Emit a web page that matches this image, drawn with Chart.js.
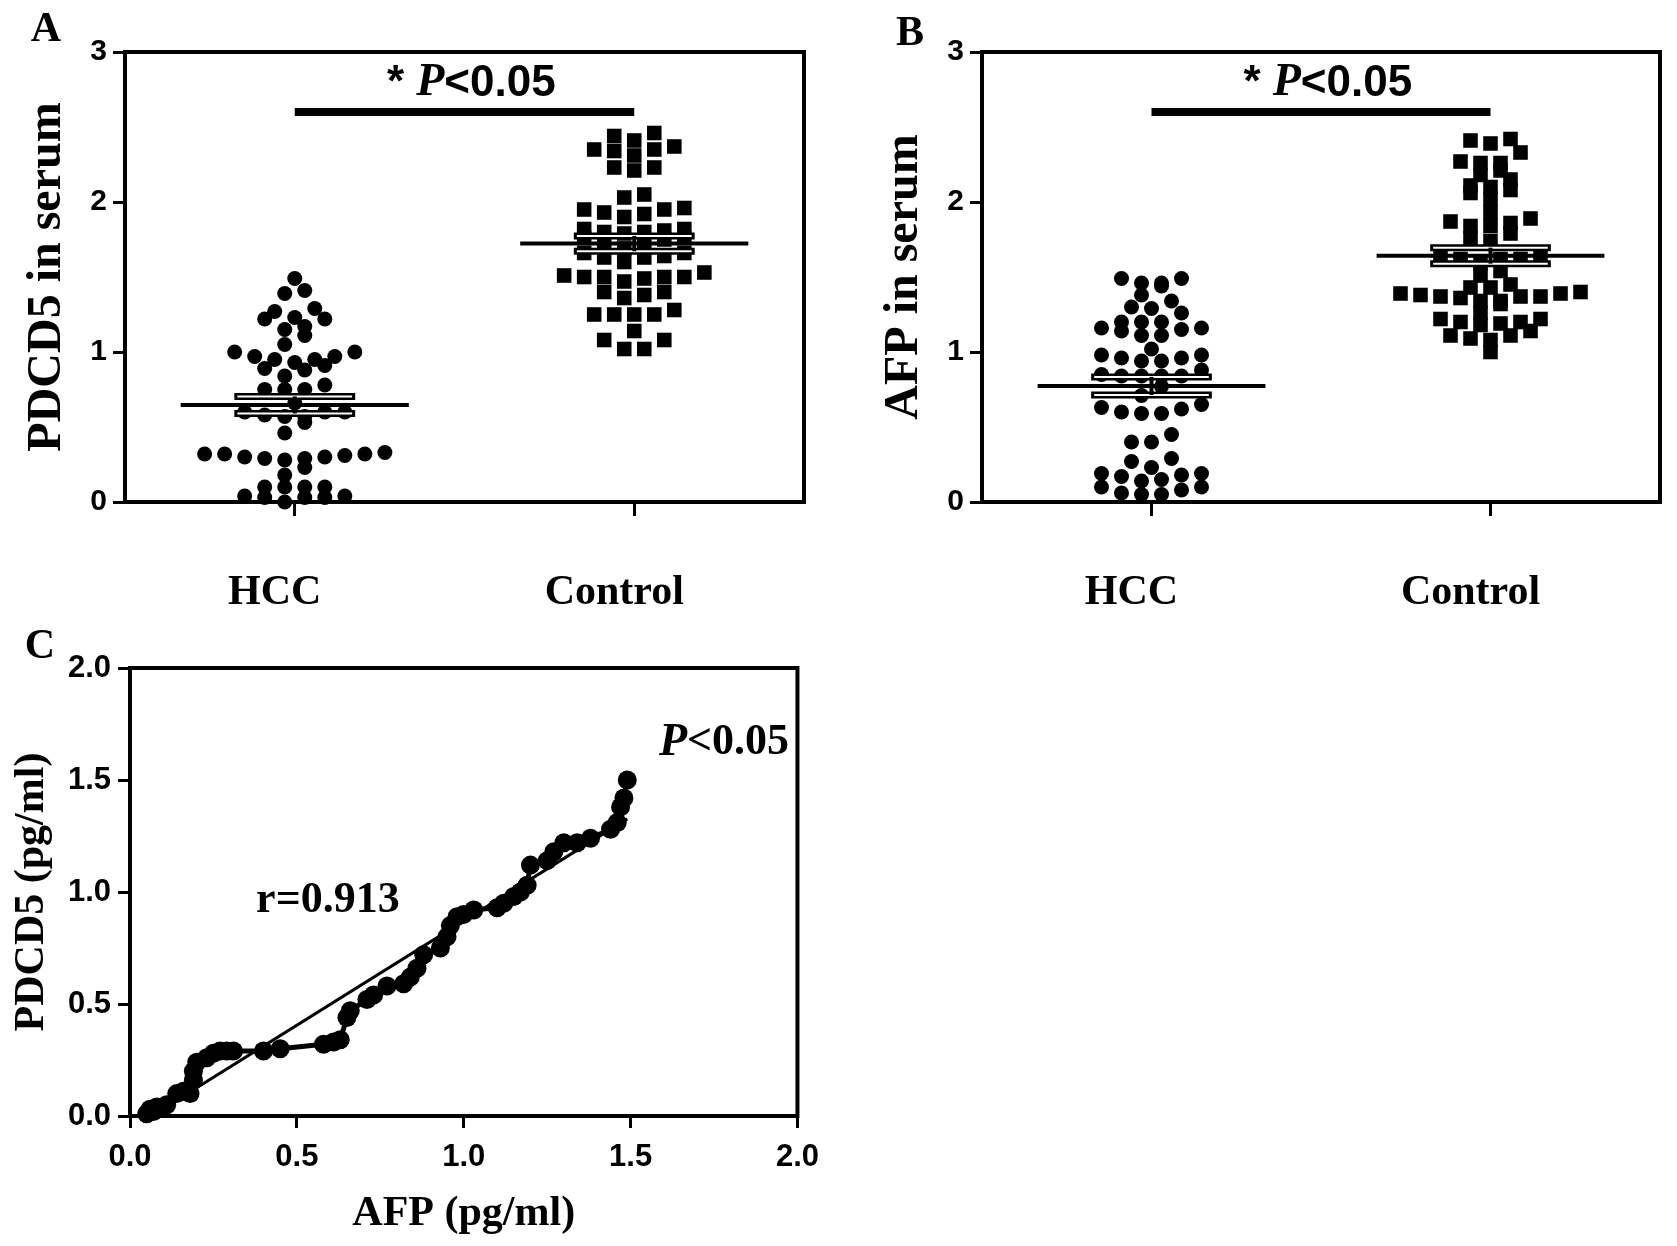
<!DOCTYPE html>
<html>
<head>
<meta charset="utf-8">
<script src="https://cdn.jsdelivr.net/npm/chart.js@4.4.0/dist/chart.umd.min.js"></script>
<style>
    body { margin: 0; background: #fff; width: 1677px; height: 1246px; position: relative; overflow: hidden; }
    canvas { position: absolute; }
    #chartA { left: 0; top: 0; }
    #chartB { left: 857px; top: 0; }
    #chartC { left: 0; top: 600px; }
</style>
</head>
<body>
<canvas id="chartA" width="830" height="640"></canvas>
<canvas id="chartB" width="820" height="640"></canvas>
<canvas id="chartC" width="830" height="646"></canvas>
<script>
// Groups on the x axis of panels A and B
const groups = ['HCC', 'Control'];
const serumTicks = [0, 1, 2, 3];
const corrTicks = [0, 0.5, 1, 1.5, 2];

// Panel A: PDCD5 in serum
const pdcd5Hcc = [1.49, 1.41, 1.39, 1.29, 1.27, 1.23, 1.22, 1.22, 1.17, 1.15, 1.11, 1.05,
    1.00, 1.00, 0.97, 0.97, 0.95, 0.95, 0.93, 0.91, 0.89, 0.88, 0.84, 0.78, 0.75, 0.75, 0.75,
    0.66, 0.60, 0.60, 0.60, 0.58, 0.57, 0.57, 0.53, 0.46, 0.33, 0.32, 0.32, 0.32, 0.31, 0.30,
    0.30, 0.29, 0.29, 0.28, 0.23, 0.18, 0.10, 0.10, 0.10, 0.10, 0.04, 0.04, 0.03, 0.03, 0.03, 0.00];
const pdcd5Control = [2.46, 2.44, 2.41, 2.37, 2.35, 2.35, 2.34, 2.31, 2.23, 2.23, 2.21, 2.05,
    2.03, 1.96, 1.95, 1.95, 1.93, 1.92, 1.90, 1.82, 1.82, 1.81, 1.80, 1.80, 1.79, 1.76, 1.76,
    1.75, 1.73, 1.73, 1.69, 1.66, 1.66, 1.64, 1.63, 1.63, 1.60, 1.53, 1.51, 1.50, 1.50, 1.50,
    1.50, 1.49, 1.47, 1.40, 1.40, 1.38, 1.36, 1.28, 1.25, 1.25, 1.25, 1.25, 1.14, 1.08, 1.08, 1.02, 1.02];

// Panel B: AFP in serum
const afpHcc = [1.49, 1.49, 1.46, 1.46, 1.44, 1.38, 1.34, 1.30, 1.29, 1.26, 1.20, 1.20, 1.20,
    1.16, 1.16, 1.15, 1.14, 1.11, 1.11, 1.02, 0.98, 0.98, 0.96, 0.96, 0.94, 0.94, 0.88, 0.85,
    0.84, 0.84, 0.84, 0.84, 0.77, 0.71, 0.65, 0.63, 0.62, 0.60, 0.59, 0.59, 0.45, 0.40, 0.40,
    0.29, 0.27, 0.23, 0.19, 0.19, 0.18, 0.17, 0.15, 0.14, 0.10, 0.10, 0.08, 0.06, 0.05, 0.05];
const afpControl = [2.42, 2.41, 2.39, 2.33, 2.27, 2.26, 2.26, 2.21, 2.18, 2.15, 2.11, 2.10,
    2.08, 2.06, 2.02, 1.93, 1.89, 1.87, 1.86, 1.84, 1.84, 1.79, 1.76, 1.74, 1.64, 1.64, 1.62,
    1.62, 1.62, 1.59, 1.54, 1.51, 1.45, 1.43, 1.43, 1.40, 1.39, 1.39, 1.38, 1.37, 1.37, 1.37,
    1.36, 1.34, 1.34, 1.32, 1.26, 1.22, 1.22, 1.20, 1.20, 1.19, 1.18, 1.14, 1.11, 1.11, 1.09, 1.08, 1.00];

// Panel C: correlation, HCC patients (pg/ml)
const corrAfp = [0.05, 0.06, 0.07, 0.08, 0.10, 0.11, 0.14, 0.16, 0.18, 0.19, 0.19, 0.20, 0.23,
    0.25, 0.27, 0.29, 0.31, 0.40, 0.45, 0.58, 0.61, 0.63, 0.65, 0.66, 0.71, 0.73, 0.77, 0.82,
    0.84, 0.86, 0.88, 0.93, 0.95, 0.96, 0.98, 1.00, 1.03, 1.10, 1.12, 1.15, 1.17, 1.19, 1.20,
    1.25, 1.27, 1.30, 1.34, 1.38, 1.44, 1.46, 1.47, 1.48, 1.49];
const corrPdcd5 = [0.01, 0.03, 0.02, 0.04, 0.04, 0.05, 0.10, 0.11, 0.10, 0.16, 0.20, 0.24, 0.26,
    0.28, 0.29, 0.29, 0.29, 0.29, 0.30, 0.32, 0.33, 0.34, 0.44, 0.47, 0.52, 0.54, 0.58, 0.59,
    0.62, 0.66, 0.72, 0.75, 0.80, 0.85, 0.89, 0.90, 0.92, 0.93, 0.95, 0.98, 1.00, 1.03, 1.12,
    1.14, 1.18, 1.22, 1.22, 1.24, 1.28, 1.31, 1.38, 1.42, 1.50];

// Annotation texts
const sigLevel = 2.6;
const rText = 'r=0.913';

const SERIF = "'Liberation Serif', 'Times New Roman', serif";
const SANS = "'Liberation Sans', Arial, sans-serif";
const BLACK = '#000';

// Layout constants for the column scatter (data units)
const SLOT = 0.059;      // horizontal step between dots
const ROW_H = 0.075;     // values closer than this share a row
const MEAN_HALF = 0.336;
const SEM_HALF = 0.178;

// Arrange values in rows around the group centre (GraphPad-like column scatter)
function swarm(values, center) {
    const sorted = values.slice().sort((a, b) => a - b);
    const rows = [];
    sorted.forEach((v) => {
        const row = rows[rows.length - 1];
        if (row && v - row[0] < ROW_H) row.push(v);
        else rows.push([v]);
    });
    const points = [];
    rows.forEach((row) => {
        const n = row.length;
        // centre-out positions, lowest value in the middle
        const pos = row.map((_, i) => i - (n - 1) / 2)
            .sort((a, b) => Math.abs(a) - Math.abs(b) || a - b);
        row.forEach((y, i) => points.push({ x: center + pos[i] * SLOT, y }));
    });
    return points;
}

function meanSem(values) {
    const n = values.length;
    const m = values.reduce((a, b) => a + b, 0) / n;
    const sd = Math.sqrt(values.reduce((a, b) => a + (b - m) ** 2, 0) / (n - 1));
    return { m, sem: sd / Math.sqrt(n) };
}

function lineSet(points, width, color, order) {
    return {
        data: points, showLine: true, pointRadius: 0, borderColor: color,
        borderWidth: width, borderCapStyle: 'butt', order, clip: false
    };
}

// Mean line plus SEM bar for one group
function meanSets(values, c) {
    const { m, sem } = meanSem(values);
    const inner = 0.009;
    return [
        lineSet([{ x: c - SEM_HALF, y: m + sem }, { x: c + SEM_HALF, y: m + sem }], 7, BLACK, 2),
        lineSet([{ x: c - SEM_HALF, y: m - sem }, { x: c + SEM_HALF, y: m - sem }], 7, BLACK, 2),
        lineSet([{ x: c - SEM_HALF + inner, y: m + sem }, { x: c + SEM_HALF - inner, y: m + sem }], 2, '#fff', 1),
        lineSet([{ x: c - SEM_HALF + inner, y: m - sem }, { x: c + SEM_HALF - inner, y: m - sem }], 2, '#fff', 1),
        lineSet([{ x: c, y: m - sem }, { x: c, y: m + sem }], 4, BLACK, 0),
        lineSet([{ x: c - MEAN_HALF, y: m }, { x: c + MEAN_HALF, y: m }], 4, BLACK, 0)
    ];
}

// Box round the plot area (top and right sides)
const framePlugin = {
    id: 'frame',
    afterDraw(chart) {
        const { ctx, chartArea: a } = chart;
        ctx.save();
        ctx.strokeStyle = BLACK;
        ctx.lineWidth = 4;
        ctx.lineCap = 'square';
        ctx.beginPath();
        ctx.moveTo(a.left, a.top);
        ctx.lineTo(a.right, a.top);
        ctx.lineTo(a.right, a.bottom);
        ctx.stroke();
        ctx.restore();
    }
};

// Texts placed at data coordinates, plus the panel letter in pixels
function notesPlugin(items, letter) {
    return {
        id: 'notes',
        afterDraw(chart) {
            const ctx = chart.ctx;
            ctx.save();
            ctx.fillStyle = BLACK;
            ctx.textBaseline = 'middle';
            ctx.textAlign = 'left';
            items.forEach((item) => {
                const px = chart.scales.x.getPixelForValue(item.x);
                const py = chart.scales.y.getPixelForValue(item.y);
                let total = 0;
                item.parts.forEach((p) => { ctx.font = p.font; total += ctx.measureText(p.text).width; });
                let cx = px - total / 2;
                item.parts.forEach((p) => {
                    ctx.font = p.font;
                    ctx.fillText(p.text, cx, py);
                    cx += ctx.measureText(p.text).width;
                });
            });
            ctx.font = `bold 42px ${SERIF}`;
            ctx.textAlign = 'center';
            ctx.fillText(letter.text, letter.x, letter.y);
            ctx.restore();
        }
    };
}

function axisStyle(tickLength) {
    return {
        grid: { drawOnChartArea: false, tickLength, tickWidth: 3, color: BLACK },
        border: { display: true, color: BLACK, width: 4 }
    };
}

const sigParts = [
    { text: '* ', font: `bold 44px ${SANS}` },
    { text: 'P', font: `italic bold 46px ${SERIF}` },
    { text: '<0.05', font: `bold 44px ${SANS}` }
];

// Panels A and B: column scatter with mean and SEM
function serumChart(canvasId, yTitle, hccValues, controlValues, letter, rightPad) {
    const datasets = [
        lineSet([{ x: 1, y: sigLevel }, { x: 2, y: sigLevel }], 8, BLACK, 0),
        ...meanSets(hccValues, 1),
        ...meanSets(controlValues, 2),
        {
            data: swarm(hccValues, 1), pointStyle: 'circle', pointRadius: 7.5,
            backgroundColor: BLACK, borderWidth: 0, order: 3, clip: false
        },
        {
            data: swarm(controlValues, 2), pointStyle: 'rect', pointRadius: 10.3,
            backgroundColor: BLACK, borderWidth: 0, order: 3, clip: false
        }
    ];

    new Chart(document.getElementById(canvasId), {
        type: 'scatter',
        data: { datasets },
        options: {
            responsive: false,
            animation: false,
            devicePixelRatio: 1,
            events: [],
            layout: { padding: { left: 0, top: 52, right: rightPad, bottom: 0 } },
            plugins: { legend: { display: false }, tooltip: { enabled: false } },
            scales: {
                x: {
                    type: 'linear', min: 0.5, max: 2.5,
                    afterBuildTicks: (s) => { s.ticks = groups.map((g, i) => ({ value: i + 1 })); },
                    afterFit: (s) => { s.height = 138; },
                    ticks: {
                        callback: (v) => groups[v - 1], color: BLACK, padding: 52,
                        labelOffset: -20, maxRotation: 0, autoSkip: false,
                        font: { family: SERIF, size: 42, weight: 'bold' }
                    },
                    ...axisStyle(14)
                },
                y: {
                    type: 'linear', min: serumTicks[0], max: serumTicks[serumTicks.length - 1],
                    afterBuildTicks: (s) => { s.ticks = serumTicks.map((v) => ({ value: v })); },
                    afterFit: (s) => { s.width = 125; },
                    ticks: { color: BLACK, padding: 6, font: { family: SANS, size: 30, weight: 'bold' } },
                    title: {
                        display: true, text: yTitle, color: BLACK,
                        padding: { top: 19, bottom: 0 },
                        font: { family: SERIF, size: 48, weight: 'bold' }
                    },
                    ...axisStyle(12)
                }
            }
        },
        plugins: [framePlugin, notesPlugin([{ x: 1.52, y: 2.79, parts: sigParts }], letter)]
    });
}

// Least squares line through the correlation points
function linearFit(xs, ys) {
    const n = xs.length;
    const mx = xs.reduce((a, b) => a + b, 0) / n;
    const my = ys.reduce((a, b) => a + b, 0) / n;
    let sxy = 0, sxx = 0;
    xs.forEach((x, i) => { sxy += (x - mx) * (ys[i] - my); sxx += (x - mx) ** 2; });
    const slope = sxy / sxx;
    return { slope, intercept: my - slope * mx };
}

function corrChart() {
    const fit = linearFit(corrAfp, corrPdcd5);
    const x0 = Math.min(...corrAfp);
    const x1 = Math.max(...corrAfp);
    const fmt = (v) => Number(v).toFixed(1);

    new Chart(document.getElementById('chartC'), {
        type: 'scatter',
        data: {
            datasets: [
                {
                    data: corrAfp.map((x, i) => ({ x, y: corrPdcd5[i] })),
                    showLine: true, borderColor: BLACK, borderWidth: 5,
                    pointStyle: 'circle', pointRadius: 9.5, backgroundColor: BLACK,
                    pointBorderWidth: 0, order: 0, clip: false
                },
                lineSet([{ x: x0, y: fit.intercept + fit.slope * x0 }, { x: x1, y: fit.intercept + fit.slope * x1 }], 3, BLACK, 1)
            ]
        },
        options: {
            responsive: false,
            animation: false,
            devicePixelRatio: 1,
            events: [],
            layout: { padding: { left: 0, top: 68, right: 23, bottom: 0 } },
            plugins: { legend: { display: false }, tooltip: { enabled: false } },
            scales: {
                x: {
                    type: 'linear', min: corrTicks[0], max: corrTicks[corrTicks.length - 1],
                    afterBuildTicks: (s) => { s.ticks = corrTicks.map((v) => ({ value: v })); },
                    afterFit: (s) => { s.height = 130; },
                    ticks: { callback: fmt, color: BLACK, padding: 11, maxRotation: 0, font: { family: SANS, size: 31, weight: 'bold' } },
                    title: {
                        display: true, text: 'AFP (pg/ml)', color: BLACK,
                        padding: { top: 0, bottom: 7 },
                        font: { family: SERIF, size: 42, weight: 'bold' }
                    },
                    ...axisStyle(12)
                },
                y: {
                    type: 'linear', min: corrTicks[0], max: corrTicks[corrTicks.length - 1],
                    afterBuildTicks: (s) => { s.ticks = corrTicks.map((v) => ({ value: v })); },
                    afterFit: (s) => { s.width = 130; },
                    ticks: { callback: fmt, color: BLACK, padding: 7, font: { family: SANS, size: 31, weight: 'bold' } },
                    title: {
                        display: true, text: 'PDCD5 (pg/ml)', color: BLACK,
                        padding: { top: 7, bottom: 0 },
                        font: { family: SERIF, size: 42, weight: 'bold' }
                    },
                    ...axisStyle(12)
                }
            }
        },
        plugins: [framePlugin, notesPlugin([
            {
                x: 1.78, y: 1.665, parts: [
                    { text: 'P', font: `italic bold 46px ${SERIF}` },
                    { text: '<0.05', font: `bold 44px ${SERIF}` }
                ]
            },
            { x: 0.593, y: 0.96, parts: [{ text: rText, font: `bold 44px ${SERIF}` }] }
        ], { text: 'C', x: 40, y: 47 })]
    });
}

// Initialize the page
document.addEventListener('DOMContentLoaded', () => {
    serumChart('chartA', 'PDCD5 in serum', pdcd5Hcc, pdcd5Control, { text: 'A', x: 46, y: 30 }, 26);
    serumChart('chartB', 'AFP in serum', afpHcc, afpControl, { text: 'B', x: 53, y: 34 }, 17);
    corrChart();
});
</script>
</body>
</html>
